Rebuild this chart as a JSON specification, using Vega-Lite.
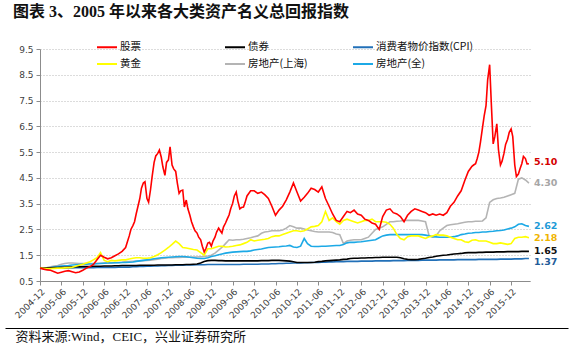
{
  "$schema": "https://vega.github.io/schema/vega-lite/v6.json",
  "width": 490,
  "height": 232,
  "autosize": {"type": "none"},
  "padding": {"left": 40, "top": 49, "right": 45, "bottom": 69},
  "background": "white",
  "title": {
    "text": "图表 3、2005 年以来各大类资产名义总回报指数",
    "anchor": "start",
    "frame": "group",
    "dx": -27,
    "offset": 16,
    "font": "Liberation Serif, Noto Sans CJK SC",
    "fontSize": 16,
    "fontWeight": "bold",
    "color": "#111111"
  },
  "config": {
    "view": {"stroke": null},
    "axis": {"labelFont": "DejaVu Sans", "labelFontSize": 9, "labelColor": "#404040", "domainColor": "#8c8c8c", "tickColor": "#8c8c8c", "tickSize": 4, "labelOverlap": false}
  },
  "datasets": {
    "main": [
      {"d":"2004-12","s":1.00,"b":1.00,"c":1.00,"y":1.00,"g":1.00,"l":1.00},
      {"d":"2005-01","s":0.96,"b":1.00,"c":1.00,"y":0.99,"g":1.00,"l":1.00},
      {"d":"2005-02","s":0.93,"b":1.01,"c":1.00,"y":0.98,"g":1.02,"l":1.01},
      {"d":"2005-03","s":0.92,"b":1.01,"c":1.00,"y":0.98,"g":1.05,"l":1.02},
      {"d":"2005-04","s":0.86,"b":1.02,"c":1.01,"y":0.99,"g":1.08,"l":1.04},
      {"d":"2005-05","s":0.80,"b":1.02,"c":1.01,"y":1.00,"g":1.10,"l":1.06},
      {"d":"2005-06","s":0.84,"b":1.03,"c":1.01,"y":1.00,"g":1.15,"l":1.08},
      {"d":"2005-07","s":0.88,"b":1.03,"c":1.01,"y":1.01,"g":1.18,"l":1.09},
      {"d":"2005-08","s":0.90,"b":1.04,"c":1.01,"y":1.02,"g":1.20,"l":1.10},
      {"d":"2005-09","s":0.86,"b":1.04,"c":1.01,"y":1.03,"g":1.20,"l":1.12},
      {"d":"2005-10","s":0.82,"b":1.05,"c":1.02,"y":1.07,"g":1.19,"l":1.13},
      {"d":"2005-11","s":0.85,"b":1.05,"c":1.02,"y":1.11,"g":1.18,"l":1.14},
      {"d":"2005-12","s":0.92,"b":1.06,"c":1.02,"y":1.15,"g":1.18,"l":1.15},
      {"d":"2006-01","s":1.00,"b":1.06,"c":1.02,"y":1.20,"g":1.18,"l":1.15},
      {"d":"2006-02","s":1.06,"b":1.06,"c":1.02,"y":1.25,"g":1.18,"l":1.16},
      {"d":"2006-03","s":1.14,"b":1.07,"c":1.02,"y":1.32,"g":1.18,"l":1.16},
      {"d":"2006-04","s":1.32,"b":1.07,"c":1.03,"y":1.40,"g":1.19,"l":1.17},
      {"d":"2006-05","s":1.50,"b":1.07,"c":1.03,"y":1.60,"g":1.19,"l":1.18},
      {"d":"2006-06","s":1.42,"b":1.08,"c":1.03,"y":1.30,"g":1.20,"l":1.19},
      {"d":"2006-07","s":1.36,"b":1.08,"c":1.03,"y":1.25,"g":1.20,"l":1.20},
      {"d":"2006-08","s":1.40,"b":1.08,"c":1.03,"y":1.30,"g":1.21,"l":1.20},
      {"d":"2006-09","s":1.48,"b":1.09,"c":1.03,"y":1.28,"g":1.21,"l":1.21},
      {"d":"2006-10","s":1.55,"b":1.09,"c":1.04,"y":1.30,"g":1.22,"l":1.21},
      {"d":"2006-11","s":1.65,"b":1.10,"c":1.04,"y":1.32,"g":1.23,"l":1.22},
      {"d":"2006-12","s":1.80,"b":1.10,"c":1.04,"y":1.32,"g":1.25,"l":1.22},
      {"d":"2007-01","s":2.25,"b":1.10,"c":1.04,"y":1.35,"g":1.25,"l":1.23},
      {"d":"2007-02","s":2.65,"b":1.10,"c":1.05,"y":1.38,"g":1.26,"l":1.24},
      {"d":"2007-03","s":3.10,"b":1.10,"c":1.05,"y":1.40,"g":1.27,"l":1.26},
      {"d":"2007-04","s":3.70,"b":1.11,"c":1.06,"y":1.40,"g":1.28,"l":1.28},
      {"d":"2007-05","s":4.30,"b":1.11,"c":1.06,"y":1.38,"g":1.29,"l":1.30},
      {"d":"2007-06","s":3.70,"b":1.11,"c":1.07,"y":1.38,"g":1.30,"l":1.32},
      {"d":"2007-07","s":4.03,"b":1.11,"c":1.07,"y":1.40,"g":1.31,"l":1.34},
      {"d":"2007-08","s":5.10,"b":1.11,"c":1.08,"y":1.45,"g":1.33,"l":1.36},
      {"d":"2007-09","s":5.45,"b":1.12,"c":1.08,"y":1.52,"g":1.35,"l":1.38},
      {"d":"2007-10","s":5.30,"b":1.12,"c":1.09,"y":1.60,"g":1.37,"l":1.40},
      {"d":"2007-11","s":4.60,"b":1.12,"c":1.09,"y":1.70,"g":1.38,"l":1.41},
      {"d":"2007-12","s":5.20,"b":1.12,"c":1.10,"y":1.80,"g":1.40,"l":1.42},
      {"d":"2008-01","s":5.00,"b":1.12,"c":1.10,"y":1.92,"g":1.40,"l":1.43},
      {"d":"2008-02","s":4.75,"b":1.13,"c":1.11,"y":2.05,"g":1.41,"l":1.44},
      {"d":"2008-03","s":3.90,"b":1.13,"c":1.11,"y":1.95,"g":1.41,"l":1.45},
      {"d":"2008-04","s":4.03,"b":1.13,"c":1.11,"y":1.80,"g":1.42,"l":1.45},
      {"d":"2008-05","s":3.64,"b":1.14,"c":1.12,"y":1.78,"g":1.42,"l":1.44},
      {"d":"2008-06","s":3.05,"b":1.14,"c":1.12,"y":1.75,"g":1.42,"l":1.42},
      {"d":"2008-07","s":2.60,"b":1.15,"c":1.12,"y":1.72,"g":1.43,"l":1.40},
      {"d":"2008-08","s":2.36,"b":1.16,"c":1.13,"y":1.70,"g":1.43,"l":1.38},
      {"d":"2008-09","s":2.10,"b":1.20,"c":1.13,"y":1.60,"g":1.44,"l":1.37},
      {"d":"2008-10","s":1.63,"b":1.26,"c":1.13,"y":1.50,"g":1.45,"l":1.37},
      {"d":"2008-11","s":1.97,"b":1.29,"c":1.14,"y":1.75,"g":1.47,"l":1.40},
      {"d":"2008-12","s":1.85,"b":1.30,"c":1.14,"y":1.75,"g":1.50,"l":1.45},
      {"d":"2009-01","s":2.20,"b":1.30,"c":1.14,"y":1.80,"g":1.58,"l":1.48},
      {"d":"2009-02","s":2.55,"b":1.29,"c":1.14,"y":1.85,"g":1.70,"l":1.52},
      {"d":"2009-03","s":2.36,"b":1.29,"c":1.14,"y":1.85,"g":1.80,"l":1.55},
      {"d":"2009-04","s":2.75,"b":1.28,"c":1.14,"y":1.82,"g":1.95,"l":1.58},
      {"d":"2009-05","s":3.06,"b":1.28,"c":1.14,"y":1.83,"g":2.10,"l":1.60},
      {"d":"2009-06","s":3.52,"b":1.28,"c":1.14,"y":1.85,"g":2.08,"l":1.62},
      {"d":"2009-07","s":3.95,"b":1.28,"c":1.14,"y":1.88,"g":2.10,"l":1.63},
      {"d":"2009-08","s":3.30,"b":1.28,"c":1.14,"y":1.90,"g":2.10,"l":1.64},
      {"d":"2009-09","s":3.37,"b":1.28,"c":1.15,"y":1.95,"g":2.12,"l":1.65},
      {"d":"2009-10","s":3.80,"b":1.28,"c":1.15,"y":2.00,"g":2.15,"l":1.65},
      {"d":"2009-11","s":4.00,"b":1.28,"c":1.15,"y":2.10,"g":2.18,"l":1.67},
      {"d":"2009-12","s":4.00,"b":1.28,"c":1.15,"y":2.05,"g":2.22,"l":1.70},
      {"d":"2010-01","s":3.90,"b":1.28,"c":1.15,"y":2.08,"g":2.25,"l":1.72},
      {"d":"2010-02","s":3.95,"b":1.29,"c":1.16,"y":2.10,"g":2.35,"l":1.74},
      {"d":"2010-03","s":3.85,"b":1.29,"c":1.16,"y":2.12,"g":2.40,"l":1.77},
      {"d":"2010-04","s":3.70,"b":1.29,"c":1.16,"y":2.15,"g":2.42,"l":1.80},
      {"d":"2010-05","s":3.40,"b":1.30,"c":1.17,"y":2.22,"g":2.45,"l":1.81},
      {"d":"2010-06","s":3.05,"b":1.30,"c":1.17,"y":2.25,"g":2.45,"l":1.82},
      {"d":"2010-07","s":3.25,"b":1.30,"c":1.18,"y":2.25,"g":2.45,"l":1.83},
      {"d":"2010-08","s":3.40,"b":1.29,"c":1.18,"y":2.30,"g":2.48,"l":1.85},
      {"d":"2010-09","s":3.65,"b":1.28,"c":1.19,"y":2.35,"g":2.55,"l":1.86},
      {"d":"2010-10","s":3.95,"b":1.27,"c":1.19,"y":2.40,"g":2.65,"l":1.88},
      {"d":"2010-11","s":4.30,"b":1.25,"c":1.20,"y":2.45,"g":2.60,"l":1.82},
      {"d":"2010-12","s":3.95,"b":1.22,"c":1.20,"y":2.45,"g":2.55,"l":1.80},
      {"d":"2011-01","s":3.60,"b":1.22,"c":1.20,"y":2.42,"g":2.55,"l":1.85},
      {"d":"2011-02","s":3.75,"b":1.22,"c":1.21,"y":2.45,"g":2.52,"l":2.15},
      {"d":"2011-03","s":3.90,"b":1.22,"c":1.21,"y":2.52,"g":2.48,"l":1.95},
      {"d":"2011-04","s":4.10,"b":1.22,"c":1.22,"y":2.60,"g":2.45,"l":1.85},
      {"d":"2011-05","s":4.05,"b":1.23,"c":1.22,"y":2.62,"g":2.42,"l":1.84},
      {"d":"2011-06","s":3.95,"b":1.25,"c":1.22,"y":2.65,"g":2.40,"l":1.84},
      {"d":"2011-07","s":4.15,"b":1.26,"c":1.23,"y":2.80,"g":2.40,"l":1.85},
      {"d":"2011-08","s":3.70,"b":1.28,"c":1.23,"y":3.20,"g":2.40,"l":1.85},
      {"d":"2011-09","s":3.40,"b":1.29,"c":1.24,"y":2.85,"g":2.40,"l":1.86},
      {"d":"2011-10","s":3.10,"b":1.30,"c":1.24,"y":2.95,"g":2.38,"l":1.87},
      {"d":"2011-11","s":2.85,"b":1.31,"c":1.25,"y":2.80,"g":2.32,"l":1.88},
      {"d":"2011-12","s":2.80,"b":1.32,"c":1.25,"y":2.70,"g":2.30,"l":1.88},
      {"d":"2012-01","s":3.00,"b":1.34,"c":1.25,"y":2.85,"g":1.95,"l":1.92},
      {"d":"2012-02","s":3.20,"b":1.35,"c":1.26,"y":2.90,"g":2.05,"l":1.98},
      {"d":"2012-03","s":3.15,"b":1.37,"c":1.26,"y":2.85,"g":2.08,"l":2.00},
      {"d":"2012-04","s":3.25,"b":1.38,"c":1.26,"y":2.80,"g":2.10,"l":2.00},
      {"d":"2012-05","s":3.10,"b":1.38,"c":1.26,"y":2.75,"g":2.10,"l":2.01},
      {"d":"2012-06","s":3.05,"b":1.39,"c":1.27,"y":2.80,"g":2.10,"l":2.02},
      {"d":"2012-07","s":2.90,"b":1.39,"c":1.27,"y":2.85,"g":2.15,"l":2.04},
      {"d":"2012-08","s":2.85,"b":1.40,"c":1.27,"y":2.85,"g":2.20,"l":2.06},
      {"d":"2012-09","s":2.75,"b":1.40,"c":1.27,"y":2.90,"g":2.35,"l":2.08},
      {"d":"2012-10","s":2.70,"b":1.41,"c":1.28,"y":2.80,"g":2.50,"l":2.10},
      {"d":"2012-11","s":2.50,"b":1.41,"c":1.28,"y":2.80,"g":2.55,"l":2.18},
      {"d":"2012-12","s":3.00,"b":1.42,"c":1.28,"y":2.80,"g":2.60,"l":2.25},
      {"d":"2013-01","s":3.25,"b":1.42,"c":1.28,"y":2.78,"g":2.70,"l":2.28},
      {"d":"2013-02","s":3.30,"b":1.42,"c":1.28,"y":2.70,"g":2.80,"l":2.30},
      {"d":"2013-03","s":3.15,"b":1.42,"c":1.29,"y":2.55,"g":2.80,"l":2.30},
      {"d":"2013-04","s":3.10,"b":1.42,"c":1.29,"y":2.30,"g":2.82,"l":2.30},
      {"d":"2013-05","s":3.00,"b":1.40,"c":1.29,"y":2.15,"g":2.83,"l":2.30},
      {"d":"2013-06","s":2.80,"b":1.36,"c":1.29,"y":2.10,"g":2.85,"l":2.30},
      {"d":"2013-07","s":3.05,"b":1.34,"c":1.30,"y":2.22,"g":2.85,"l":2.30},
      {"d":"2013-08","s":3.20,"b":1.33,"c":1.30,"y":2.25,"g":2.85,"l":2.30},
      {"d":"2013-09","s":3.30,"b":1.33,"c":1.30,"y":2.25,"g":2.85,"l":2.30},
      {"d":"2013-10","s":3.25,"b":1.34,"c":1.30,"y":2.25,"g":2.85,"l":2.30},
      {"d":"2013-11","s":3.20,"b":1.36,"c":1.31,"y":2.20,"g":2.83,"l":2.30},
      {"d":"2013-12","s":3.15,"b":1.38,"c":1.31,"y":2.15,"g":2.80,"l":2.28},
      {"d":"2014-01","s":3.05,"b":1.41,"c":1.31,"y":2.22,"g":2.25,"l":2.25},
      {"d":"2014-02","s":3.10,"b":1.43,"c":1.31,"y":2.25,"g":2.20,"l":2.22},
      {"d":"2014-03","s":3.05,"b":1.46,"c":1.31,"y":2.30,"g":2.25,"l":2.21},
      {"d":"2014-04","s":3.10,"b":1.48,"c":1.32,"y":2.28,"g":2.45,"l":2.20},
      {"d":"2014-05","s":3.05,"b":1.50,"c":1.32,"y":2.28,"g":2.55,"l":2.20},
      {"d":"2014-06","s":3.15,"b":1.51,"c":1.32,"y":2.25,"g":2.65,"l":2.20},
      {"d":"2014-07","s":3.40,"b":1.53,"c":1.32,"y":2.20,"g":2.68,"l":2.20},
      {"d":"2014-08","s":3.55,"b":1.55,"c":1.32,"y":2.15,"g":2.70,"l":2.22},
      {"d":"2014-09","s":3.80,"b":1.56,"c":1.33,"y":2.10,"g":2.72,"l":2.25},
      {"d":"2014-10","s":4.00,"b":1.57,"c":1.33,"y":2.10,"g":2.75,"l":2.30},
      {"d":"2014-11","s":4.40,"b":1.59,"c":1.33,"y":2.02,"g":2.78,"l":2.32},
      {"d":"2014-12","s":4.75,"b":1.60,"c":1.33,"y":2.00,"g":2.80,"l":2.35},
      {"d":"2015-01","s":4.95,"b":1.60,"c":1.33,"y":2.08,"g":2.80,"l":2.36},
      {"d":"2015-02","s":5.05,"b":1.60,"c":1.33,"y":2.10,"g":2.82,"l":2.38},
      {"d":"2015-03","s":5.50,"b":1.61,"c":1.34,"y":2.05,"g":2.82,"l":2.38},
      {"d":"2015-04","s":6.45,"b":1.61,"c":1.34,"y":2.05,"g":2.83,"l":2.40},
      {"d":"2015-05","s":7.30,"b":1.62,"c":1.34,"y":2.05,"g":2.95,"l":2.40},
      {"d":"2015-06","s":8.89,"b":1.62,"c":1.34,"y":2.00,"g":3.55,"l":2.42},
      {"d":"2015-07","s":5.82,"b":1.62,"c":1.34,"y":1.95,"g":3.65,"l":2.43},
      {"d":"2015-08","s":6.60,"b":1.63,"c":1.34,"y":1.95,"g":3.70,"l":2.45},
      {"d":"2015-09","s":5.00,"b":1.63,"c":1.35,"y":1.98,"g":3.72,"l":2.46},
      {"d":"2015-10","s":5.45,"b":1.63,"c":1.35,"y":1.95,"g":3.75,"l":2.48},
      {"d":"2015-11","s":6.00,"b":1.64,"c":1.35,"y":1.92,"g":3.80,"l":2.52},
      {"d":"2015-12","s":6.40,"b":1.64,"c":1.35,"y":1.95,"g":3.85,"l":2.55},
      {"d":"2016-01","s":5.00,"b":1.64,"c":1.36,"y":2.15,"g":3.90,"l":2.60},
      {"d":"2016-02","s":4.65,"b":1.64,"c":1.36,"y":2.20,"g":4.45,"l":2.70},
      {"d":"2016-03","s":5.05,"b":1.65,"c":1.36,"y":2.20,"g":4.50,"l":2.72},
      {"d":"2016-04","s":5.25,"b":1.65,"c":1.37,"y":2.22,"g":4.42,"l":2.65},
      {"d":"2016-05","s":5.05,"b":1.65,"c":1.37,"y":2.18,"g":4.30,"l":2.62},
      {"d":"2006-12-15","s":2.00},
      {"d":"2007-01-15","s":2.50},
      {"d":"2007-02-15","s":2.80},
      {"d":"2007-03-15","s":3.37},
      {"d":"2007-04-15","s":4.10},
      {"d":"2007-05-15","s":4.35},
      {"d":"2007-06-15","s":3.56},
      {"d":"2007-07-15","s":4.55},
      {"d":"2007-08-15","s":5.35},
      {"d":"2007-09-15","s":5.58},
      {"d":"2007-10-15","s":4.92},
      {"d":"2007-11-15","s":5.10},
      {"d":"2007-12-15","s":5.70},
      {"d":"2008-01-15","s":4.85},
      {"d":"2008-02-15","s":4.30},
      {"d":"2008-03-15","s":4.00},
      {"d":"2008-04-15","s":3.37},
      {"d":"2008-05-15","s":3.30},
      {"d":"2008-06-15","s":2.80},
      {"d":"2008-07-15","s":2.45},
      {"d":"2008-08-15","s":2.20},
      {"d":"2008-09-15","s":1.85},
      {"d":"2008-10-15","s":1.75},
      {"d":"2008-11-15","s":2.00},
      {"d":"2008-12-15","s":2.05},
      {"d":"2009-01-15","s":2.40},
      {"d":"2009-02-15","s":2.45},
      {"d":"2009-03-15","s":2.60},
      {"d":"2009-04-15","s":2.90},
      {"d":"2009-05-15","s":3.30},
      {"d":"2009-06-15","s":3.80},
      {"d":"2009-07-15","s":3.60},
      {"d":"2009-08-15","s":3.35},
      {"d":"2009-09-15","s":3.55},
      {"d":"2015-01-15","s":5.00},
      {"d":"2015-02-15","s":5.25},
      {"d":"2015-03-15","s":5.90},
      {"d":"2015-04-15","s":6.90},
      {"d":"2015-05-15","s":8.30},
      {"d":"2015-06-15","s":7.40},
      {"d":"2015-07-15","s":6.10},
      {"d":"2015-08-15","s":5.60},
      {"d":"2015-09-15","s":5.15},
      {"d":"2015-10-15","s":5.80},
      {"d":"2015-11-15","s":6.27},
      {"d":"2015-12-15","s":6.10},
      {"d":"2016-01-15","s":4.55},
      {"d":"2016-02-15","s":4.85},
      {"d":"2016-03-15","s":5.33},
      {"d":"2016-04-15","s":5.04}
    ],
    "ends": [
      {"d":"2016-05","k":"s","v":5.10,"t":"5.10"},
      {"d":"2016-05","k":"g","v":4.30,"t":"4.30"},
      {"d":"2016-05","k":"l","v":2.62,"t":"2.62"},
      {"d":"2016-05","k":"y","v":2.18,"t":"2.18"},
      {"d":"2016-05","k":"b","v":1.65,"t":"1.65"},
      {"d":"2016-05","k":"c","v":1.37,"t":"1.37"}
    ]
  },
  "encoding": {
    "x": {
      "field": "d", "type": "temporal",
      "scale": {"type": "utc", "domain": [{"year": 2004, "month": 12, "date": 1, "utc": true}, {"year": 2016, "month": 5, "date": 10, "utc": true}]},
      "axis": {
        "values": [
          {"year":2004,"month":12,"date":1,"utc":true},{"year":2005,"month":6,"date":1,"utc":true},
          {"year":2005,"month":12,"date":1,"utc":true},{"year":2006,"month":6,"date":1,"utc":true},
          {"year":2006,"month":12,"date":1,"utc":true},{"year":2007,"month":6,"date":1,"utc":true},
          {"year":2007,"month":12,"date":1,"utc":true},{"year":2008,"month":6,"date":1,"utc":true},
          {"year":2008,"month":12,"date":1,"utc":true},{"year":2009,"month":6,"date":1,"utc":true},
          {"year":2009,"month":12,"date":1,"utc":true},{"year":2010,"month":6,"date":1,"utc":true},
          {"year":2010,"month":12,"date":1,"utc":true},{"year":2011,"month":6,"date":1,"utc":true},
          {"year":2011,"month":12,"date":1,"utc":true},{"year":2012,"month":6,"date":1,"utc":true},
          {"year":2012,"month":12,"date":1,"utc":true},{"year":2013,"month":6,"date":1,"utc":true},
          {"year":2013,"month":12,"date":1,"utc":true},{"year":2014,"month":6,"date":1,"utc":true},
          {"year":2014,"month":12,"date":1,"utc":true},{"year":2015,"month":6,"date":1,"utc":true},
          {"year":2015,"month":12,"date":1,"utc":true}
        ],
        "labelExpr": "utcFormat(datum.value, '%Y-%m')",
        "labelAngle": -45,
        "labelAlign": "right",
        "labelBaseline": "top",
        "labelPadding": 2,
        "labelOverlap": false,
        "labelFlush": false,
        "grid": false,
        "title": "资料来源:Wind，CEIC，兴业证券研究所",
        "titleFont": "Liberation Serif, Noto Sans CJK SC",
        "titleFontSize": 13,
        "titleFontWeight": "normal",
        "titleColor": "#111111",
        "titleAnchor": "start",
        "titleAlign": "left",
        "titleBaseline": "middle",
        "titleAngle": 0,
        "titleX": -25,
        "titleY": 55
      }
    },
    "y": {
      "field": "v", "type": "quantitative",
      "scale": {"domain": [0.5, 9.5], "nice": false, "zero": false},
      "axis": {
        "values": [0.5, 1.5, 2.5, 3.5, 4.5, 5.5, 6.5, 7.5, 8.5, 9.5],
        "format": ".1f",
        "title": null,
        "grid": true,
        "gridDash": [1, 2],
        "gridColor": "#b8b8b8",
        "labelPadding": 3,
        "labelOverlap": false
      }
    }
  },
  "layer": [
    {
      "data": {"name": "main"},
      "transform": [
        {"fold": ["g", "l", "c", "b", "y", "s"], "as": ["k", "v"]},
        {"filter": "isValid(datum.v)"}
      ],
      "mark": {"type": "line", "strokeWidth": 1.6},
      "encoding": {
        "color": {
          "field": "k", "type": "nominal",
          "scale": {"domain": ["s", "y", "b", "g", "c", "l"], "range": ["#FF0000", "#FFFF00", "#000000", "#B4B4B4", "#2270B8", "#1CA9E6"]},
          "legend": {
            "title": null,
            "orient": "none",
            "legendX": 56,
            "legendY": -13,
            "columns": 3,
            "gridAlign": "all",
            "columnPadding": 3,
            "rowPadding": -5,
            "padding": 0,
            "symbolType": "stroke",
            "symbolSize": 400,
            "symbolStrokeWidth": 2,
            "labelFont": "Noto Sans CJK SC",
            "labelFontSize": 10.5,
            "labelColor": "#111111",
            "labelOffset": 2,
            "labelExpr": "{'s':'股票','b':'债券','c':'消费者物价指数(CPI)','y':'黄金','g':'房地产(上海)','l':'房地产(全)'}[datum.label]"
          }
        }
      }
    },
    {
      "data": {"name": "ends"},
      "transform": [{"filter": "datum.k != 'c'"}],
      "mark": {"type": "text", "align": "left", "baseline": "middle", "dx": 5, "fontSize": 9.5, "fontWeight": "bold", "font": "DejaVu Sans"},
      "encoding": {
        "x": {"field": "d", "type": "temporal", "scale": {"type": "utc", "domain": [{"year": 2004, "month": 12, "date": 1, "utc": true}, {"year": 2016, "month": 5, "date": 10, "utc": true}]}, "axis": null},
        "text": {"field": "t"},
        "color": {
          "field": "k", "type": "nominal",
          "scale": {"domain": ["s", "b", "c", "y", "g", "l"], "range": ["#D40000", "#111111", "#1F5C99", "#F0B400", "#A6A6A6", "#1F9BD7"]},
          "legend": null
        }
      }
    },
    {
      "data": {"name": "ends"},
      "transform": [{"filter": "datum.k == 'c'"}],
      "mark": {"type": "text", "align": "left", "baseline": "middle", "dx": 5, "dy": 3, "fontSize": 9.5, "fontWeight": "bold", "font": "DejaVu Sans", "color": "#1F5C99"},
      "encoding": {
        "x": {"field": "d", "type": "temporal", "scale": {"type": "utc", "domain": [{"year": 2004, "month": 12, "date": 1, "utc": true}, {"year": 2016, "month": 5, "date": 10, "utc": true}]}, "axis": null},
        "text": {"field": "t"}
      }
    },
    {
      "data": {"name": "ends"},
      "mark": {"type": "point", "opacity": 0},
      "encoding": {
        "x": {
          "field": "d", "type": "temporal",
          "scale": {"type": "utc", "domain": [{"year": 2004, "month": 12, "date": 1, "utc": true}, {"year": 2016, "month": 5, "date": 10, "utc": true}], "range": [-35, 528]},
          "axis": {"orient": "bottom", "offset": 47, "labels": false, "ticks": false, "grid": false, "title": null, "domainColor": "#000000", "domainWidth": 1.2}
        }
      }
    }
  ],
  "resolve": {"scale": {"color": "independent", "x": "independent"}, "axis": {"x": "independent"}}
}
